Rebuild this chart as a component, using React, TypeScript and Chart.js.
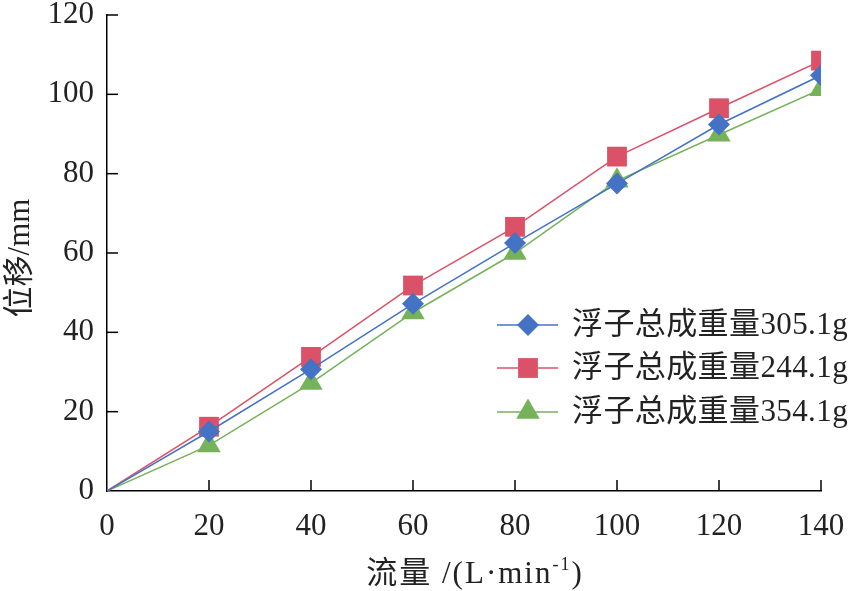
import { useEffect, useRef } from "react"
import { Chart, registerables } from "chart.js"

Chart.register(...registerables)

// 流量 (L/min)
const flow = [0, 20, 40, 60, 80, 100, 120, 140]
// 位移 (mm)
const disp305 = [0, 15, 30.7, 47.2, 62.5, 77.5, 92.4, 104.8]
const disp244 = [0, 16.2, 33.8, 51.8, 66.6, 84.3, 96.5, 108.5]
const disp354 = [0, 11.5, 27.2, 45, 60, 78.2, 89.8, 101.3]

const seriesNames = ["浮子总成重量305.1g", "浮子总成重量244.1g", "浮子总成重量354.1g"]
const colors = ["#4472C4", "#DB5268", "#76B25A"]
const markers = ["rectRot", "rect", "triangle"]
const markerRadius = [11, 14, 13.5]

const FONT = "'Liberation Serif', 'Times New Roman', 'Noto Sans CJK SC', serif"

function drawMarker(ctx: CanvasRenderingContext2D, style: string, x: number, y: number, r: number) {
  ctx.beginPath()
  if (style === "rectRot") {
    ctx.moveTo(x, y - r)
    ctx.lineTo(x + r, y)
    ctx.lineTo(x, y + r)
    ctx.lineTo(x - r, y)
  } else if (style === "rect") {
    const s = r * Math.SQRT1_2
    ctx.rect(x - s, y - s, 2 * s, 2 * s)
  } else {
    ctx.moveTo(x, y - r)
    ctx.lineTo(x + r * Math.sin(Math.PI * 2 / 3), y + r * 0.5)
    ctx.lineTo(x - r * Math.sin(Math.PI * 2 / 3), y + r * 0.5)
  }
  ctx.closePath()
  ctx.fill()
}

// 刻度线朝内、坐标轴标题、图例
const decorPlugin = {
  id: "decor",
  afterDraw(chart: any) {
    const ctx: any = chart.ctx
    const xs = chart.scales.x
    const ys = chart.scales.y
    const area = chart.chartArea
    ctx.save()
    ctx.strokeStyle = "#000"
    ctx.lineWidth = 1.5
    xs.ticks.forEach((t: any) => {
      if (t.value === 0) return
      const px = xs.getPixelForValue(t.value)
      ctx.beginPath()
      ctx.moveTo(px, area.bottom)
      ctx.lineTo(px, area.bottom - 11)
      ctx.stroke()
    })
    ys.ticks.forEach((t: any) => {
      if (t.value === 0) return
      const py = ys.getPixelForValue(t.value)
      ctx.beginPath()
      ctx.moveTo(area.left, py)
      ctx.lineTo(area.left + 11, py)
      ctx.stroke()
    })

    // x 轴标题（带上标）
    ctx.fillStyle = "#222"
    ctx.textBaseline = "alphabetic"
    ctx.textAlign = "left"
    ctx.letterSpacing = "2px"
    const main = "流量 /(L·min"
    const sup = "-1"
    const end = ")"
    ctx.font = `31px ${FONT}`
    const w1 = ctx.measureText(main).width
    const w3 = ctx.measureText(end).width
    ctx.font = `18px ${FONT}`
    const w2 = ctx.measureText(sup).width
    const cx = (area.left + area.right) / 2 + 11
    let x0 = cx - (w1 + w2 + w3) / 2
    const base = 583
    ctx.font = `31px ${FONT}`
    ctx.fillText(main, x0, base)
    x0 += w1
    ctx.font = `18px ${FONT}`
    ctx.fillText(sup, x0, base - 13)
    x0 += w2
    ctx.font = `31px ${FONT}`
    ctx.fillText(end, x0, base)
    ctx.letterSpacing = "0px"

    // y 轴标题
    ctx.save()
    ctx.translate(21, 258)
    ctx.rotate(-Math.PI / 2)
    ctx.textAlign = "center"
    ctx.textBaseline = "middle"
    ctx.font = `31px ${FONT}`
    ctx.fillText("位移/mm", 0, 0)
    ctx.restore()

    // 图例
    const rows = [325, 368, 412]
    seriesNames.forEach((name, i) => {
      const y = rows[i]
      ctx.strokeStyle = colors[i]
      ctx.lineWidth = 1.5
      ctx.beginPath()
      ctx.moveTo(497, y)
      ctx.lineTo(558, y)
      ctx.stroke()
      ctx.fillStyle = colors[i]
      drawMarker(ctx, markers[i], 528, y, markerRadius[i])
      ctx.fillStyle = "#222"
      ctx.textAlign = "left"
      ctx.textBaseline = "middle"
      ctx.font = `31px ${FONT}`
      ctx.letterSpacing = "0.4px"
      ctx.fillText(name, 572, y + 1)
      ctx.letterSpacing = "0px"
    })
    ctx.restore()
  },
}

function DisplacementChart() {
  const chartRef = useRef<HTMLCanvasElement>(null)
  const chartInstance = useRef<Chart | null>(null)

  useEffect(() => {
    if (!chartRef.current) return
    if (chartInstance.current) chartInstance.current.destroy()

    const datasets = [disp305, disp244, disp354].map((vals, i) => ({
      label: seriesNames[i],
      data: flow.map((f, j) => ({ x: f, y: vals[j] })),
      borderColor: colors[i],
      backgroundColor: colors[i],
      borderWidth: 1.5,
      pointStyle: markers[i] as any,
      pointRadius: (ctx: any) => (ctx.dataIndex === 0 ? 0 : markerRadius[i]),
      pointBorderWidth: 0,
      tension: 0,
    }))

    chartInstance.current = new Chart(chartRef.current, {
      type: "line",
      data: { datasets },
      options: {
        animation: false,
        responsive: true,
        maintainAspectRatio: false,
        layout: { padding: { top: 15, right: 28, left: 0, bottom: 0 } },
        plugins: {
          legend: { display: false },
          tooltip: { enabled: false },
        },
        scales: {
          x: {
            type: "linear",
            min: 0,
            max: 140,
            afterFit: (s: any) => {
              s.height = 100
              s.paddingLeft = 0
              s.paddingRight = 0
            },
            ticks: {
              stepSize: 20,
              padding: 17,
              color: "#222",
              font: { family: FONT, size: 31 },
            },
            grid: { display: false, drawTicks: false },
            border: { display: true, color: "#000", width: 1.5 },
          },
          y: {
            min: 0,
            max: 120,
            afterFit: (s: any) => {
              s.width = 107
              s.paddingTop = 0
              s.paddingBottom = 0
            },
            ticks: {
              stepSize: 20,
              padding: 13,
              color: "#222",
              font: { family: FONT, size: 31 },
            },
            grid: { display: false, drawTicks: false },
            border: { display: true, color: "#000", width: 1.5 },
          },
        },
      },
      plugins: [decorPlugin],
    })

    return () => {
      if (chartInstance.current) {
        chartInstance.current.destroy()
        chartInstance.current = null
      }
    }
  }, [])

  return <canvas ref={chartRef}></canvas>
}

export default function App() {
  return (
    <div style={{ position: "fixed", left: 0, top: 0, width: 849, height: 591, background: "#fff" }}>
      <DisplacementChart />
    </div>
  )
}
